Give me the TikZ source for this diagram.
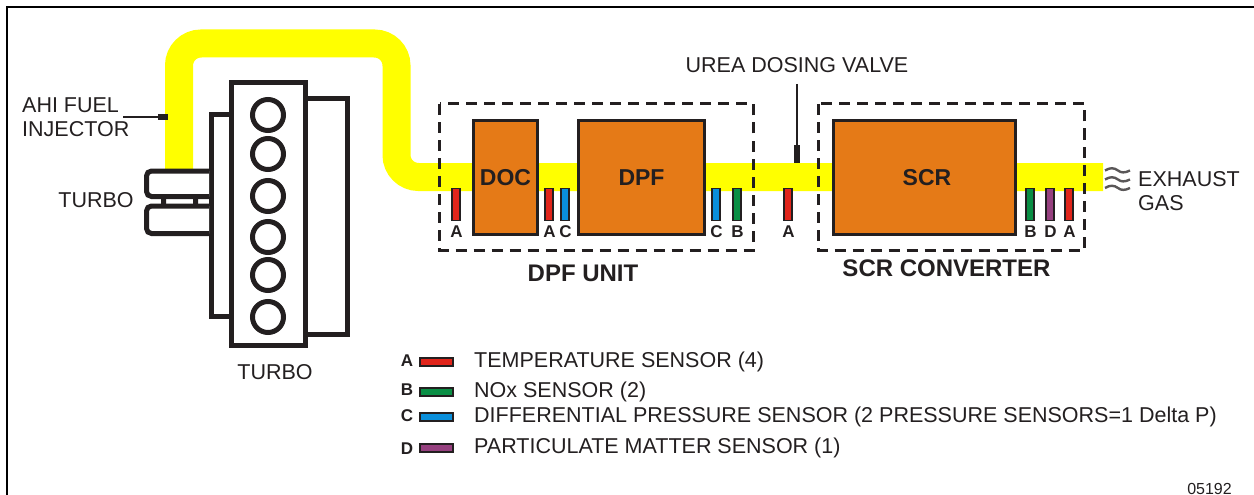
\documentclass[tikz,border=0pt]{standalone}
\usepackage{fontspec}
\setmainfont{Liberation Sans}
\definecolor{ink}{HTML}{231F20}
\definecolor{pipe}{HTML}{FFFF00}
\definecolor{unit}{HTML}{E57A17}
\definecolor{tempc}{HTML}{E1251B}
\definecolor{noxc}{HTML}{0A8F45}
\definecolor{dpc}{HTML}{0A8FDB}
\definecolor{pmc}{HTML}{96407F}
\tikzset{
  pipeline/.style={draw=pipe,line width=28pt},
  enginepart/.style={draw=ink,line width=5pt,fill=white},
  cylinder/.style={circle,draw=ink,line width=5pt,minimum size=31pt,inner sep=0pt,fill=white},
  turbobox/.style={draw=ink,line width=5pt,fill=white},
  unitbox/.style={rectangle,draw=ink,line width=3pt,fill=unit,inner sep=0pt},
  unittext/.style={text=ink,font=\fontsize{23}{23}\selectfont\bfseries,inner sep=0pt},
  groupbox/.style={draw=ink,line width=3pt,dash pattern=on 11pt off 7pt},
  sensor/.style={draw=ink,line width=1.5pt},
  tag/.style={font=\fontsize{17}{17}\bfseries\selectfont,text=ink,inner sep=0pt},
  label/.style={font=\fontsize{21.5}{24}\selectfont,text=ink,inner sep=0pt},
  biglabel/.style={font=\fontsize{24}{24}\bfseries\selectfont,text=ink,inner sep=0pt},
  wave/.style={draw=ink!75,line width=2.4pt},
  leader/.style={draw=ink,line width=2pt},
  tipbar/.style={draw=ink,line width=5.5pt},
}
\newcommand{\sens}[4]{% x, colour, letter, name
  \filldraw[sensor,fill=#2] (#1-4,188.5) rectangle (#1+4,220.5);
  \node[tag,anchor=center] (#4) at (#1+.5,232) {#3};}
\newcommand{\legendrow}[6]{% swatch y, colour, letter, letter y, text baseline, text
  \filldraw[sensor,line width=2pt,fill=#2] (420,#1-4) rectangle (453,#1+4);
  \node[tag,anchor=center] at (407,#4) {#3};
  \node[label,anchor=base west] at (474,#5) {#6};}
\begin{document}
\begin{tikzpicture}[x=1pt,y=-1pt]
\useasboundingbox (0,0) rectangle (1254,495);
% frame
\draw[black,line width=2pt] (7,495) -- (7,7) -- (1254,7);
% pipe
\draw[pipeline,rounded corners=22pt] (179,172) -- (179,43.5) -- (396.5,43.5) -- (396.5,177) -- (1103,177);
% engine
\draw[enginepart] (305,98.5) -- (347.5,98.5) -- (347.5,334.5) -- (305,334.5);
\draw[enginepart] (231,114.5) -- (211.5,114.5) -- (211.5,316.5) -- (231,316.5);
\node[draw=ink,line width=5pt,fill=white,minimum width=74pt,minimum height=263pt,inner sep=0pt] (engine) at (268.5,214) {};
\foreach \n/\y in {a/115,b/154,c/196,d/237,e/275,f/317}
  \node[cylinder] (cyl\n) at (268,\y) {};
% turbo
\fill[ink] (161,196) rectangle (166,206) (193,196) rectangle (198,206);
\draw[turbobox,rounded corners=5pt] (209,171) -- (146.5,171) -- (146.5,196.5) -- (209,196.5);
\draw[turbobox,rounded corners=5pt] (209,206) -- (146.5,206) -- (146.5,233.5) -- (209,233.5);
\node[label,anchor=center] (turbol) at (96,200) {TURBO};
\node[label,anchor=center] (turbob) at (275,372) {TURBO};
% injector
\node[label,anchor=west,align=left] (inj) at (22,117.5) {AHI FUEL\\INJECTOR};
\coordinate (injA) at (123,117);
\coordinate (injB) at (158,117);
\coordinate (injC) at (168,117);
\draw[leader] (injA) -- (injB);
\draw[tipbar] (injB) -- (injC);
% units
\node[unitbox,minimum width=64pt,minimum height=114pt] (doc) at (505.5,177.5) {};
\node[unittext] at (505.5,177.5) {DOC};
\node[unitbox,minimum width=126pt,minimum height=114pt] (dpf) at (641.5,177.5) {};
\node[unittext] at (641.5,177.5) {DPF};
\node[unitbox,minimum width=182pt,minimum height=114pt] (scr) at (924.5,177.5) {};
\node[unittext] at (927,177.5) {SCR};
% group boxes
\draw[groupbox] (439.5,104) rectangle (753,250);
\draw[groupbox] (818.5,104) rectangle (1084,250);
\node[biglabel] (dpfl) at (583,273) {DPF UNIT};
\node[biglabel] (scrl) at (946.5,268) {SCR CONVERTER};
% sensors
\sens{456}{tempc}{A}{s1}
\sens{549}{tempc}{A}{s2}
\sens{565}{dpc}{C}{s3}
\sens{716}{dpc}{C}{s4}
\sens{737}{noxc}{B}{s5}
\sens{788}{tempc}{A}{s6}
\sens{1030}{noxc}{B}{s7}
\sens{1050}{pmc}{D}{s8}
\sens{1069}{tempc}{A}{s9}
% urea valve
\node[label] (urea) at (797,65) {UREA DOSING VALVE};
\coordinate (ureaA) at (797,84);
\coordinate (ureaB) at (797,145);
\coordinate (ureaC) at (797,163);
\draw[leader,line width=2.5pt] (ureaA) -- (ureaB);
\draw[tipbar] (ureaB) -- (ureaC);
% exhaust
\foreach \y in {170.5,179.5,188}
  \draw[wave] (1105,\y) .. controls (1110,\y-3) and (1114,\y-3) .. (1118,\y) .. controls (1121,\y+2.5) and (1125,\y+2.5) .. (1130,\y);
\node[label,anchor=west,align=left] (exh) at (1138,191) {EXHAUST\\GAS};
% legend
\legendrow{361.5}{tempc}{A}{361}{367}{TEMPERATURE SENSOR (4)}
\legendrow{392}{noxc}{B}{390}{397}{NOx SENSOR (2)}
\legendrow{417}{dpc}{C}{416}{422}{DIFFERENTIAL PRESSURE SENSOR (2 PRESSURE SENSORS=1 Delta P)}
\legendrow{448}{pmc}{D}{449}{453}{PARTICULATE MATTER SENSOR (1)}
\node[font=\fontsize{16}{16}\selectfont,text=ink,inner sep=0pt,anchor=base] (code) at (1209.5,494) {05192};
\end{tikzpicture}
\end{document}
